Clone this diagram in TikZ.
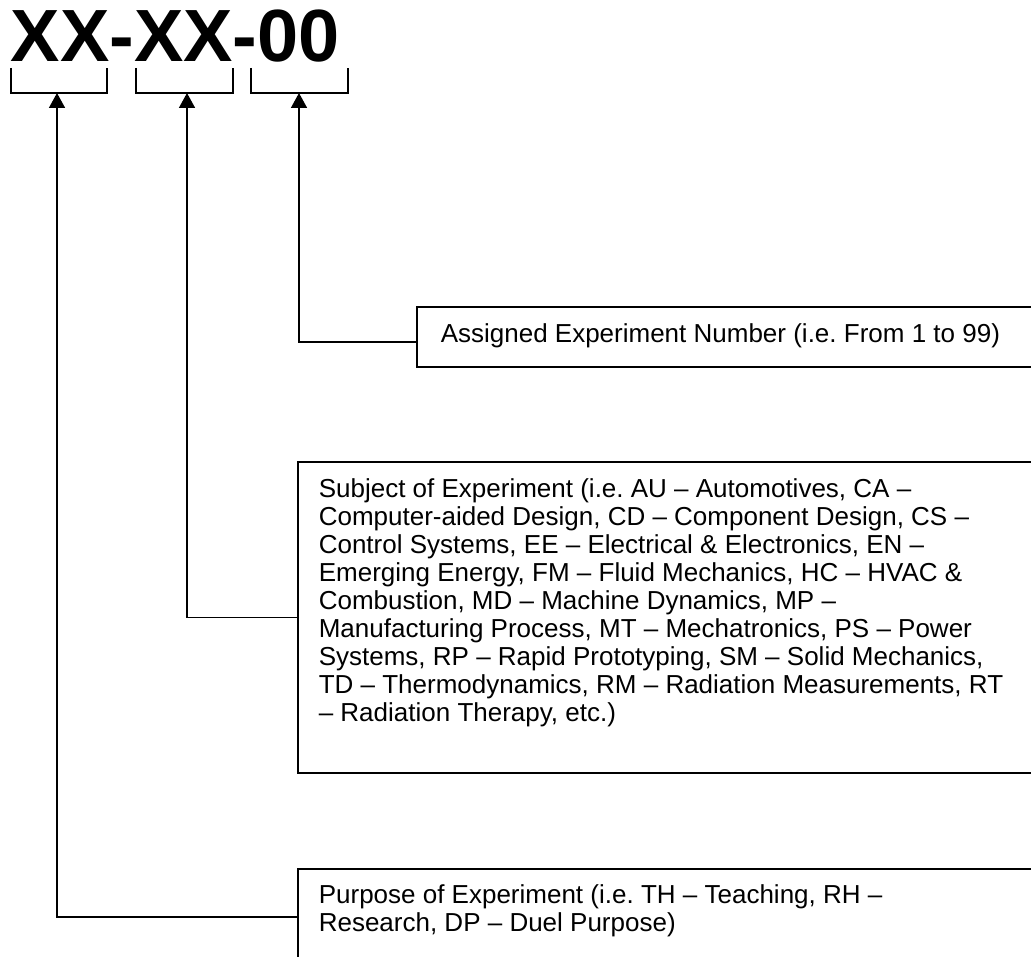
\documentclass[tikz,border=0pt]{standalone}
\usepackage{fontspec}
\setmainfont{Liberation Sans}
\usetikzlibrary{arrows.meta,calc}
\begin{document}
\frenchspacing
\begin{tikzpicture}[x=1pt,y=-1pt, line width=1.6pt,
  box/.style={draw, rectangle, inner sep=0pt, anchor=north west, minimum width=800pt},
  conn/.style={-{Triangle[length=15pt,width=16pt]}, line width=1.6pt},
  txt/.style={anchor=base west, inner sep=0pt, font=\fontsize{26}{28}\selectfont}]
\useasboundingbox (0,0) rectangle (1031,957);
\clip (0,0) rectangle (1031,957);
% title code
\node[anchor=base west, inner sep=0pt, font=\fontsize{74}{74}\selectfont\bfseries] (code) at (10,62) {XX-XX-00};
% brackets
\draw (11,68) -- (11,93) -- (107,93) -- (107,68);
\draw (136,68) -- (136,93) -- (233,93) -- (233,68);
\draw (251,68) -- (251,93) -- (348,93) -- (348,68);
\coordinate (b1) at (57,93);
\coordinate (b2) at (187,93);
\coordinate (b3) at (299,93);
% boxes
\node[box, minimum height=60pt] (asg) at (416,306) {};
\node[box, minimum height=311pt] (sub) at (297,461) {};
\node[box, minimum height=96pt] (pur) at (297,868) {};
% texts
\node[txt] (asgt) at (440,343) {Assigned Experiment Number (i.e. From 1 to 99)};
\node[txt] (subt) at (318,497) {\parbox[t]{720pt}{\raggedright
Subject of Experiment (i.e. AU – Automotives, CA –\\
Computer-aided Design, CD – Component Design, CS –\\
Control Systems, EE – Electrical \& Electronics, EN –\\
Emerging Energy, FM – Fluid Mechanics, HC – HVAC \&\\
Combustion, MD – Machine Dynamics, MP –\\
Manufacturing Process, MT – Mechatronics, PS – Power\\
Systems, RP – Rapid Prototyping, SM – Solid Mechanics,\\
TD – Thermodynamics, RM – Radiation Measurements, RT\\
– Radiation Therapy, etc.)}};
\node[txt] (purt) at (318,903) {\parbox[t]{720pt}{\raggedright
Purpose of Experiment (i.e. TH – Teaching, RH –\\
Research, DP – Duel Purpose)}};
% connectors
\draw[conn] ([yshift=-5pt]asg.west) -| (b3);
\draw[conn] (sub.west) -| (b2);
\draw[conn] (pur.west) -| (b1);
\end{tikzpicture}
\end{document}
